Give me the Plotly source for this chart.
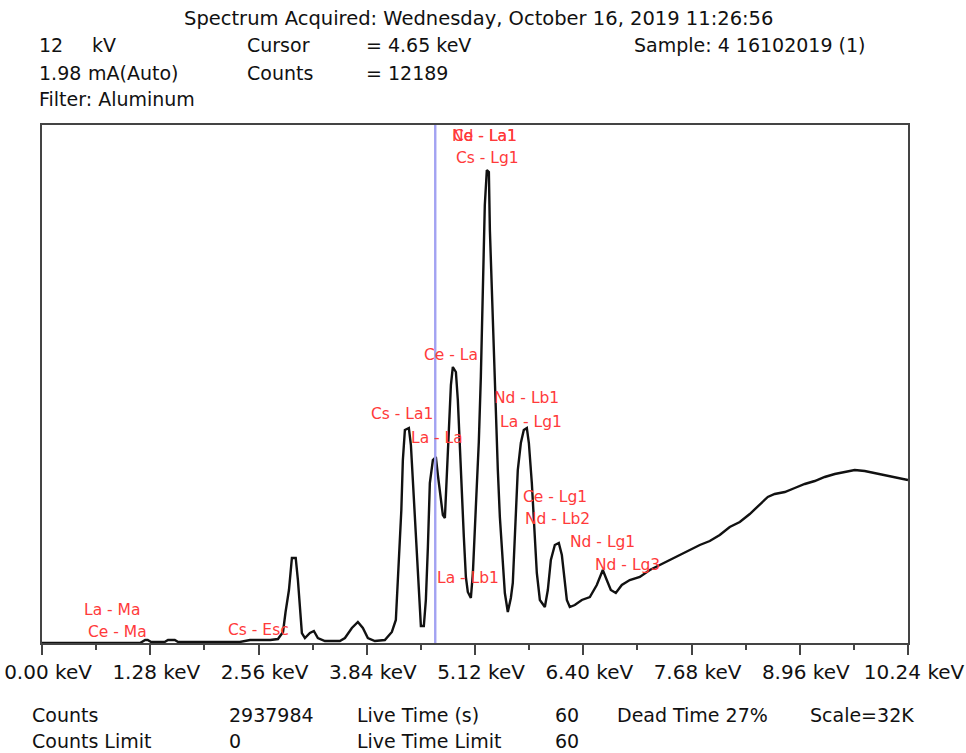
import plotly.graph_objects as go

# ---------------- data ----------------
energy_kev = [0.00, 0.69, 1.16, 1.22, 1.25, 1.29, 1.45, 1.49, 1.57, 1.61, 2.34, 2.46, 2.70, 2.79,
              2.85, 2.88, 2.92, 2.955, 3.00, 3.026, 3.05, 3.073, 3.109, 3.168, 3.215, 3.262, 3.345,
              3.522, 3.582, 3.664, 3.735, 3.794, 3.853, 3.936, 4.054, 4.137, 4.184, 4.208, 4.232,
              4.249, 4.267, 4.291, 4.338, 4.362, 4.385, 4.409, 4.433, 4.456, 4.480, 4.515, 4.539,
              4.563, 4.586, 4.622, 4.657, 4.681, 4.716, 4.740, 4.764, 4.787, 4.811, 4.835, 4.858,
              4.894, 4.917, 4.941, 4.965, 4.988, 5.012, 5.035, 5.071, 5.095, 5.130, 5.165, 5.189,
              5.213, 5.236, 5.260, 5.284, 5.296, 5.319, 5.343, 5.366, 5.390, 5.414, 5.449, 5.473,
              5.508, 5.544, 5.567, 5.591, 5.626, 5.662, 5.697, 5.733, 5.757, 5.792, 5.827, 5.851,
              5.887, 5.946, 5.981, 6.017, 6.064, 6.111, 6.147, 6.170, 6.206, 6.241, 6.300, 6.383,
              6.478, 6.560, 6.631, 6.678, 6.726, 6.785, 6.856, 6.950, 7.069, 7.187, 7.305, 7.423,
              7.541, 7.660, 7.778, 7.896, 8.014, 8.132, 8.251, 8.369, 8.487, 8.582, 8.664, 8.783,
              8.901, 9.019, 9.137, 9.255, 9.374, 9.492, 9.610, 9.728, 9.846, 9.965, 10.083, 10.24]
counts = [0, 0, 0, 200, 200, 67, 67, 200, 200, 67, 67, 200, 200, 266,
          733, 2065, 3530, 5661, 5661, 4196, 2198, 666, 333, 666, 799, 333, 133,
          133, 333, 999, 1399, 999, 333, 133, 200, 733, 1532, 4196, 6860,
          8858, 12188, 14186, 14319, 13187, 10856, 8192, 5528, 2864, 1132, 1132, 2864,
          6394, 10656, 12188, 12388, 11189, 9524, 8525, 8325, 11522, 14186, 17183, 18382,
          18049, 16184, 12854, 9857, 7060, 4396, 3397, 2997, 4662, 9058, 13387, 17716,
          24642, 29171, 31502, 31369, 27506, 23310, 19514, 15052, 11522, 8392, 4862, 3330,
          2065, 2997, 3996, 7326, 11522, 13320, 14186, 14319, 13320, 10656, 7526, 4662,
          2864, 2398, 3530, 5528, 6527, 6660, 5861, 4529, 2864, 2398, 2531, 2864,
          3064, 3863, 4862, 4196, 3530, 3330, 3863, 4196, 4396, 4862, 5195, 5528,
          5861, 6194, 6527, 6793, 7193, 7726, 8059, 8592, 9191, 9724, 9924, 10057,
          10323, 10590, 10789, 11056, 11255, 11389, 11522, 11455, 11322, 11189, 11056, 10856]

tick_kev = [0.00, 1.28, 2.56, 3.84, 5.12, 6.40, 7.68, 8.96, 10.24]
tick_text = ["0.00 keV", "1.28 keV", "2.56 keV", "3.84 keV", "5.12 keV",
             "6.40 keV", "7.68 keV", "8.96 keV", "10.24 keV"]
cursor_kev = 4.65

peak_labels = ["La - Ma", "Ce - Ma", "Cs - Esc", "Cs - La1", "La - La", "Ce - La",
               "Ce - La1", "Nd - La1", "Cs - Lg1", "Nd - Lb1", "La - Lg1", "Ce - Lg1",
               "Nd - Lb2", "Nd - Lg1", "Nd - Lg3", "La - Lb1"]

header_texts = ["Spectrum Acquired: Wednesday, October 16, 2019 11:26:56",
                "12", "kV", "Cursor", "= 4.65 keV", "Sample: 4 16102019 (1)",
                "1.98", "mA(Auto)", "Counts", "= 12189", "Filter: Aluminum"]
footer_texts = ["Counts", "2937984", "Live Time (s)", "60", "Dead Time 27%", "Scale=32K",
                "Counts Limit", "0", "Live Time Limit", "60"]

# ---------------- layout helpers (pixel positions) ----------------
W, H = 966, 753
L, R, T, B = 42, 908, 125, 643


def px(xp, yp):
    return (xp - L) / (R - L), (B - yp) / (B - T)


label_pos = [(112, 610), (117, 632), (258, 630), (402, 414), (437, 438), (451, 355),
             (485, 136), (485, 136), (487, 158), (526, 398), (531, 422), (555, 497),
             (557, 519), (602, 542), (627, 565), (468, 578)]
header_pos = [(182, 18), (37, 45), (90, 45), (245, 45), (364, 45), (632, 45),
              (37, 73), (86, 73), (245, 73), (364, 73), (37, 99)]
footer_pos = [(30, 715), (227, 715), (355, 715), (553, 715), (615, 715), (808, 715),
              (30, 741), (227, 741), (355, 741), (553, 741)]
header_sizes = [19.5] + [19] * 10

TEXT_FONT = "DejaVu Sans, Verdana, sans-serif"

fig = go.Figure()
fig.add_trace(go.Scatter(x=energy_kev, y=counts, mode="lines",
                         line=dict(color="#111111", width=2.4), hoverinfo="skip"))

fig.add_shape(type="line", x0=cursor_kev, x1=cursor_kev, y0=0, y1=1, yref="paper",
              line=dict(color="#a2a2f2", width=2.4))

annotations = []
for t, (xp, yp) in zip(peak_labels, label_pos):
    xx, yy = px(xp, yp)
    annotations.append(dict(text=t, x=xx, y=yy, xref="paper", yref="paper", showarrow=False,
                            xanchor="center", yanchor="middle",
                            font=dict(family=TEXT_FONT, size=15.5, color="#ff3a3a")))
for t, (xp, yp), fs in zip(header_texts + footer_texts, header_pos + footer_pos,
                           header_sizes + [19] * len(footer_texts)):
    xx, yy = px(xp, yp)
    annotations.append(dict(text=t, x=xx, y=yy, xref="paper", yref="paper", showarrow=False,
                            xanchor="left", yanchor="middle",
                            font=dict(family=TEXT_FONT, size=fs, color="#111111")))

fig.update_layout(
    width=W, height=H,
    margin=dict(l=L, r=W - R, t=T, b=H - B, autoexpand=False),
    paper_bgcolor="white", plot_bgcolor="white",
    showlegend=False,
    annotations=annotations,
    xaxis=dict(range=[0, 10.24], tickvals=tick_kev, ticktext=tick_text,
               automargin=False,
               ticks="outside", ticklen=10, tickwidth=2, tickcolor="#444444",
               showline=True, linecolor="#444444", linewidth=2, mirror=True,
               showgrid=False, zeroline=False,
               ticklabelstandoff=0, ticklabelshift=6,
               tickfont=dict(family=TEXT_FONT, size=20, color="#111111"),
               minor=dict(ticks="outside", ticklen=5, tickwidth=2, tickcolor="#444444", dtick=0.64,
                          tick0=0.64, showgrid=False)),
    yaxis=dict(range=[0, 34500], showticklabels=False, ticks="", showgrid=False, zeroline=False,
               automargin=False,
               showline=True, linecolor="#444444", linewidth=2, mirror=True),
)

fig.write_html("out.html", config={"displayModeBar": False},
               post_script="document.body.style.margin='0';")
